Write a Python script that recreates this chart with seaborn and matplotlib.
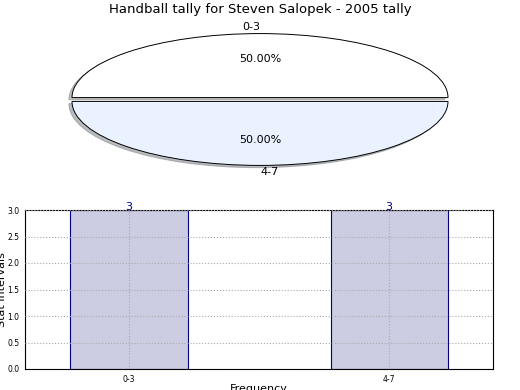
import matplotlib
matplotlib.use("Agg")
import matplotlib.pyplot as plt
import seaborn as sns
import pandas as pd

# Data
categories = ["0-3", "4-7"]
tally = [3, 3]
pie_colors = ["#FFFFFF", "#EBF2FF"]

sns.set_style("white")
plt.rcParams['font.family'] = ['DejaVu Sans']
plt.rcParams['text.color'] = 'black'
plt.rcParams['axes.labelcolor'] = 'black'
plt.rcParams['xtick.color'] = 'black'
plt.rcParams['ytick.color'] = 'black'

fig = plt.figure(figsize=(5.2, 3.9), dpi=100)
W, H = 520.0, 390.0

# Pie (top) - squashed, exploded, with shadow
cx, cy = 260.0, 99.5
rx, ry = 188.0, 64.0
ax_pie = fig.add_axes([(cx - 1.1 * rx) / W, 1 - (cy + 1.5 * ry) / H,
                       2.2 * rx / W, 3.0 * ry / H])
wedges, texts, autotexts = ax_pie.pie(
    tally,
    labels=categories,
    colors=pie_colors,
    explode=[0.03, 0.03],
    autopct="%.2f%%",
    shadow={"ox": -0.012, "oy": -0.025, "shade": 0.5},
    startangle=0,
    wedgeprops=dict(edgecolor="black", linewidth=0.7),
    textprops=dict(fontsize=8, color="black"),
)
ax_pie.set_aspect("auto")
ax_pie.set_xlim(-1.1, 1.1)
ax_pie.set_ylim(-1.5, 1.5)
ax_pie.axis("off")

fig.text(0.5, 1 - 10 / H, "Handball tally for Steven Salopek - 2005 tally",
         ha="center", va="center", fontsize=9.5)

# Bar chart (bottom)
df = pd.DataFrame({"interval": categories, "count": tally})
ax = fig.add_axes([25 / W, 21 / H, 468 / W, 159 / H])
sns.barplot(data=df, x="interval", y="count", ax=ax, width=0.45,
            color="#CCCCE3", saturation=1, edgecolor="#000080", linewidth=0.8)
for i, v in enumerate(tally):
    ax.text(i, v - 0.04, str(v), ha="center", va="bottom", color="#000080", fontsize=8)

ax.set_xlim(-0.4, 1.4)
ax.set_ylim(0, 3.0)
ax.set_yticks([0.0, 0.5, 1.0, 1.5, 2.0, 2.5, 3.0])
ax.set_yticklabels(["0.0", "0.5", "1.0", "1.5", "2.0", "2.5", "3.0"])
ax.grid(True, linestyle=":", color="#AAAAAA", linewidth=0.8)
ax.set_axisbelow(False)
ax.tick_params(axis="both", labelsize=5.5, direction="out", length=2,
               color="#BBBBBB", pad=2)
ax.set_xlabel("Frequency", fontsize=8, labelpad=0)
ax.set_ylabel("Stat Intervals", fontsize=8, labelpad=0)
for s in ax.spines.values():
    s.set_color("black")
    s.set_linewidth(0.8)

fig.savefig("out.png", dpi=100)
